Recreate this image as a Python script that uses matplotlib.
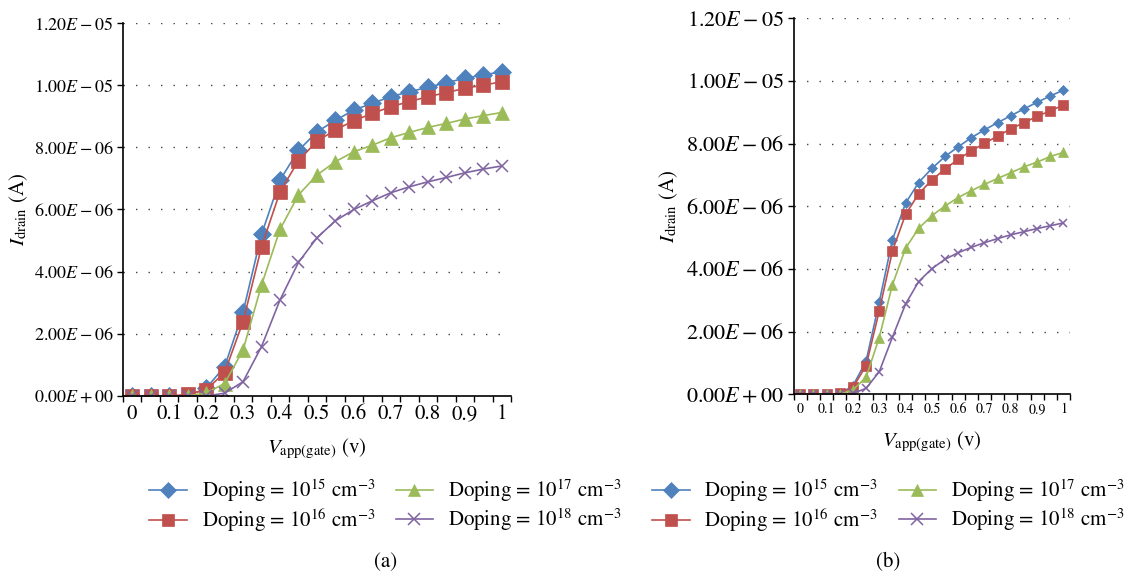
import numpy as np
import matplotlib
matplotlib.use("Agg")
import matplotlib.pyplot as plt
from matplotlib.lines import Line2D

plt.rcParams["font.family"] = ["STIXGeneral", "DejaVu Serif"]
plt.rcParams["mathtext.fontset"] = "stix"

# gate voltage (V), 21 points
v_gate = [0.0, 0.05, 0.1, 0.15, 0.2, 0.25, 0.3, 0.35, 0.4, 0.45, 0.5,
          0.55, 0.6, 0.65, 0.7, 0.75, 0.8, 0.85, 0.9, 0.95, 1.0]

# drain current in units of 1e-6 A, panel (a)
a_1e15 = [0, 0, 0, 0, 0.25, 0.94, 2.70, 5.20, 6.95, 7.90, 8.50,
          8.87, 9.20, 9.42, 9.63, 9.79, 9.93, 10.08, 10.22, 10.33, 10.43]
a_1e16 = [0, 0, 0, 0.05, 0.20, 0.75, 2.39, 4.80, 6.57, 7.57, 8.20,
          8.56, 8.86, 9.09, 9.31, 9.47, 9.63, 9.76, 9.90, 10.00, 10.11]
a_1e17 = [0, 0, 0, 0, 0.10, 0.40, 1.48, 3.57, 5.36, 6.47, 7.11,
          7.54, 7.86, 8.07, 8.31, 8.48, 8.64, 8.77, 8.91, 9.02, 9.12]
a_1e18 = [0, 0, 0, 0, 0, 0.09, 0.46, 1.59, 3.09, 4.30, 5.09,
          5.64, 6.00, 6.28, 6.54, 6.73, 6.89, 7.03, 7.18, 7.30, 7.40]

# drain current in units of 1e-6 A, panel (b)
b_1e15 = [0, 0, 0, 0.02, 0.27, 1.06, 2.94, 4.93, 6.10, 6.76, 7.21,
          7.59, 7.90, 8.19, 8.44, 8.67, 8.89, 9.11, 9.32, 9.52, 9.71]
b_1e16 = [0, 0, 0, 0.03, 0.22, 0.91, 2.66, 4.57, 5.74, 6.40, 6.84,
          7.19, 7.50, 7.77, 8.01, 8.24, 8.47, 8.67, 8.87, 9.05, 9.23]
b_1e17 = [0, 0, 0, 0, 0.14, 0.54, 1.81, 3.49, 4.66, 5.30, 5.70,
          6.01, 6.28, 6.50, 6.70, 6.89, 7.07, 7.26, 7.41, 7.59, 7.72]
b_1e18 = [0, 0, 0, 0, 0.03, 0.19, 0.72, 1.82, 2.88, 3.60, 4.01,
          4.31, 4.52, 4.69, 4.84, 4.97, 5.09, 5.19, 5.29, 5.38, 5.47]

y_ticks = [0, 2, 4, 6, 8, 10, 12]
y_ticklabels = [r"$0.00E+00$", r"$2.00E-06$", r"$4.00E-06$", r"$6.00E-06$",
                r"$8.00E-06$", r"$1.00E-05$", r"$1.20E-05$"]
x_labels = ["0", "0.1", "0.2", "0.3", "0.4", "0.5", "0.6", "0.7", "0.8", "0.9", "1"]

labels = [r"Doping = $10^{15}$ cm$^{-3}$", r"Doping = $10^{16}$ cm$^{-3}$",
          r"Doping = $10^{17}$ cm$^{-3}$", r"Doping = $10^{18}$ cm$^{-3}$"]
colors = ["#4F81BD", "#C0504D", "#9BBB59", "#8064A2"]
markers = ["D", "s", "^", "x"]

fig = plt.figure(figsize=(11.3, 5.78), dpi=100)
ax_a = fig.add_axes([0.1088, 0.3149, 0.3434, 0.6453])
ax_b = fig.add_axes([0.7024, 0.3178, 0.2445, 0.6505])


def draw(ax, series, msizes, tick_fs, xtick_fs, label_fs):
    for ys, c, m, ms in zip(series, colors, markers, msizes):
        kw = dict(color=c, lw=1.2, marker=m, ms=ms, mfc=c, mec=c)
        if m == "x":
            kw["mew"] = 1.1
        else:
            kw["mew"] = 0.5
        ax.plot(v_gate, np.array(ys) * 1e-6, **kw)
    ax.set_xlim(-0.025, 1.025)
    ax.set_ylim(0, 12e-6)
    ax.set_yticks(np.array(y_ticks) * 1e-6)
    ax.set_yticklabels(y_ticklabels, fontsize=tick_fs)
    for yv in y_ticks[1:]:
        ax.axhline(yv * 1e-6, color="#444444", lw=1.0, ls=(0, (1, 8)), zorder=0)
    # category boundaries as ticks, labels on every other point
    ax.set_xticks(np.arange(-0.025, 1.03, 0.05))
    ax.set_xticklabels([])
    ax.set_xticks(np.linspace(0, 1, 11), minor=True)
    ax.set_xticklabels(x_labels, minor=True, fontsize=xtick_fs)
    ax.tick_params(axis="x", which="major", direction="out", length=4, width=1)
    ax.tick_params(axis="x", which="minor", length=0, pad=6)
    ax.tick_params(axis="y", direction="out", length=4, width=1, pad=3)
    for s in ["top", "right"]:
        ax.spines[s].set_visible(False)
    for s in ["left", "bottom"]:
        ax.spines[s].set_linewidth(1.2)
        ax.spines[s].set_zorder(5)
    ax.set_xlabel(r"$V_{\mathrm{app(gate)}}$ (v)", fontsize=label_fs)
    ax.set_ylabel(r"$I_{\mathrm{drain}}$ (A)", fontsize=label_fs)


draw(ax_a, [a_1e15, a_1e16, a_1e17, a_1e18], [9, 9.5, 9.5, 9], 13, 15, 15)
draw(ax_b, [b_1e15, b_1e16, b_1e17, b_1e18], [5.5, 6.5, 6.5, 6], 16, 10, 15)
ax_a.yaxis.set_label_coords(-0.24, 0.5)
ax_a.xaxis.set_label_coords(0.5, -0.11)
ax_b.yaxis.set_label_coords(-0.41, 0.5)
ax_b.xaxis.set_label_coords(0.5, -0.095)

handles = [Line2D([], [], color=c, lw=1.2, marker=m, ms=8, mfc=c, mec=c,
                  mew=1.1 if m == "x" else 0.5)
           for c, m in zip(colors, markers)]

for cx, tag in [(0.341, "(a)"), (0.786, "(b)")]:
    fig.legend(handles, labels, loc="center", bbox_to_anchor=(cx, 0.125),
               ncol=2, frameon=False, fontsize=15, handlelength=1.8,
               handletextpad=0.7, columnspacing=1.0, labelspacing=0.1)
    fig.text(cx - 0.0, 0.027, tag, ha="center", va="center", fontsize=15)

fig.savefig("out.png", dpi=100)
